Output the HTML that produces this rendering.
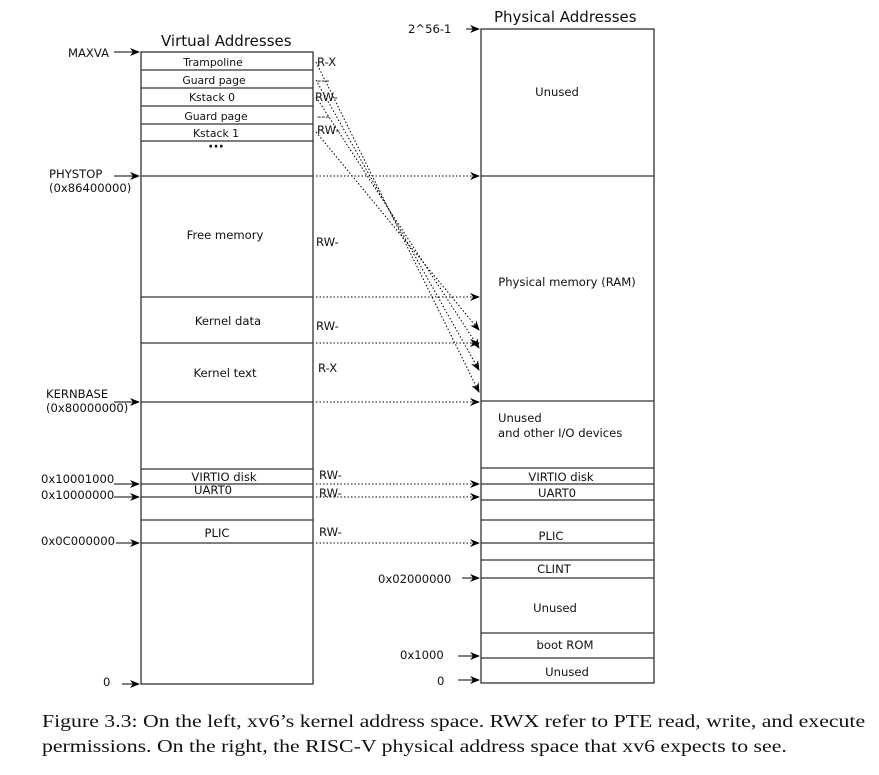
<!DOCTYPE html>
<html><head><meta charset="utf-8"><style>
body{margin:0;background:#fff;width:879px;height:775px;overflow:hidden}
svg{position:absolute;left:0;top:0}
.s{font-family:"DejaVu Sans","Liberation Sans",sans-serif;font-size:11.6px;fill:#111}
.cap{position:absolute;left:42px;top:709px;font-family:"Liberation Serif",serif;font-size:18px;line-height:25px;color:#111;white-space:nowrap;transform:scaleX(1.21);transform-origin:0 0}
</style></head><body>
<svg width="879" height="775" viewBox="0 0 879 775">
<defs><marker id="a" markerWidth="10" markerHeight="8" refX="9" refY="4" orient="auto" markerUnits="userSpaceOnUse"><path d="M0,0 L10,4 L0,8 L3,4z" fill="#000"/></marker></defs>
<g stroke="#333" stroke-width="1.3" fill="none">
<rect x="141" y="52" width="172" height="632"/>
<rect x="481" y="29" width="173" height="654"/>
<path d="M141 70H313M141 88H313M141 106H313M141 124H313M141 141H313M141 176H313M141 297H313M141 343H313M141 402H313M141 469H313M141 484H313M141 497H313M141 520H313M141 543H313"/>
<path d="M481 176H654M481 401H654M481 468H654M481 484H654M481 500H654M481 520H654M481 543H654M481 560H654M481 578H654M481 633H654M481 658H654"/>
</g>
<g stroke="#000" stroke-width="1" fill="none" marker-end="url(#a)">
<path d="M114 52H139"/><path d="M114 176H139"/><path d="M114 402H139"/><path d="M114 484H139"/><path d="M114 497H139"/><path d="M116 543H139"/><path d="M122 684H139"/><path d="M466 29H479"/><path d="M462 578H479"/><path d="M458 656H479"/><path d="M458 680H479"/>
</g>
<g stroke="#000" stroke-width="1" stroke-dasharray="1.5,2" fill="none" marker-end="url(#a)">
<path d="M316 176H479"/><path d="M316 297H479"/><path d="M316 343H479"/><path d="M316 402H479"/><path d="M316 484H479"/><path d="M316 497H479"/><path d="M316 543H479"/>
<path d="M316 62L479 392"/><path d="M316 80L479 370"/><path d="M316 97L479 348"/><path d="M316 132L479 330"/>
</g>
<g class="s">
<text x="161" y="46" font-size="15">Virtual Addresses</text>
<text x="494" y="22" font-size="15">Physical Addresses</text>
<text x="68" y="57">MAXVA</text>
<text x="408" y="33">2^56-1</text>
<text x="49" y="178">PHYSTOP</text><text x="49" y="192">(0x86400000)</text>
<text x="46" y="398">KERNBASE</text><text x="46" y="412">(0x80000000)</text>
<text x="41" y="483">0x10001000</text><text x="41" y="499">0x10000000</text>
<text x="41" y="545">0x0C000000</text>
<text x="103" y="686">0</text>
<text x="378" y="583">0x02000000</text>
<text x="400" y="659">0x1000</text>
<text x="437" y="685">0</text>
<g text-anchor="middle" font-size="10.8">
<text x="213" y="66">Trampoline</text><text x="214" y="84">Guard page</text>
<text x="212" y="101">Kstack 0</text><text x="216" y="120">Guard page</text>
<text x="216" y="137">Kstack 1</text>
<text x="216" y="151" font-size="14" font-weight="bold">···</text>
</g>
<text x="225" y="239" text-anchor="middle">Free memory</text>
<text x="228" y="325" text-anchor="middle">Kernel data</text>
<text x="225" y="377" text-anchor="middle">Kernel text</text>
<text x="224" y="481" text-anchor="middle">VIRTIO disk</text>
<text x="213" y="494" text-anchor="middle">UART0</text>
<text x="217" y="537" text-anchor="middle">PLIC</text>
<text x="317" y="66">R-X</text><text x="317" y="84">---</text><text x="315" y="101">RW-</text><text x="317" y="120">---</text><text x="317" y="134">RW-</text>
<text x="316" y="246">RW-</text><text x="316" y="330">RW-</text><text x="318" y="372">R-X</text>
<text x="319" y="479">RW-</text><text x="319" y="497">RW-</text><text x="319" y="536">RW-</text>
<text x="557" y="96" text-anchor="middle">Unused</text>
<text x="567" y="286" text-anchor="middle">Physical memory (RAM)</text>
<text x="498" y="422">Unused</text><text x="498" y="437">and other I/O devices</text>
<text x="561" y="481" text-anchor="middle">VIRTIO disk</text>
<text x="557" y="497" text-anchor="middle">UART0</text>
<text x="551" y="540" text-anchor="middle">PLIC</text>
<text x="554" y="573" text-anchor="middle">CLINT</text>
<text x="555" y="612" text-anchor="middle">Unused</text>
<text x="565" y="649" text-anchor="middle">boot ROM</text>
<text x="567" y="676" text-anchor="middle">Unused</text>
</g>
</svg>
<div class="cap">Figure 3.3: On the left, xv6’s kernel address space. RWX refer to PTE read, write, and execute<br>permissions. On the right, the RISC-V physical address space that xv6 expects to see.</div>
</body></html>
